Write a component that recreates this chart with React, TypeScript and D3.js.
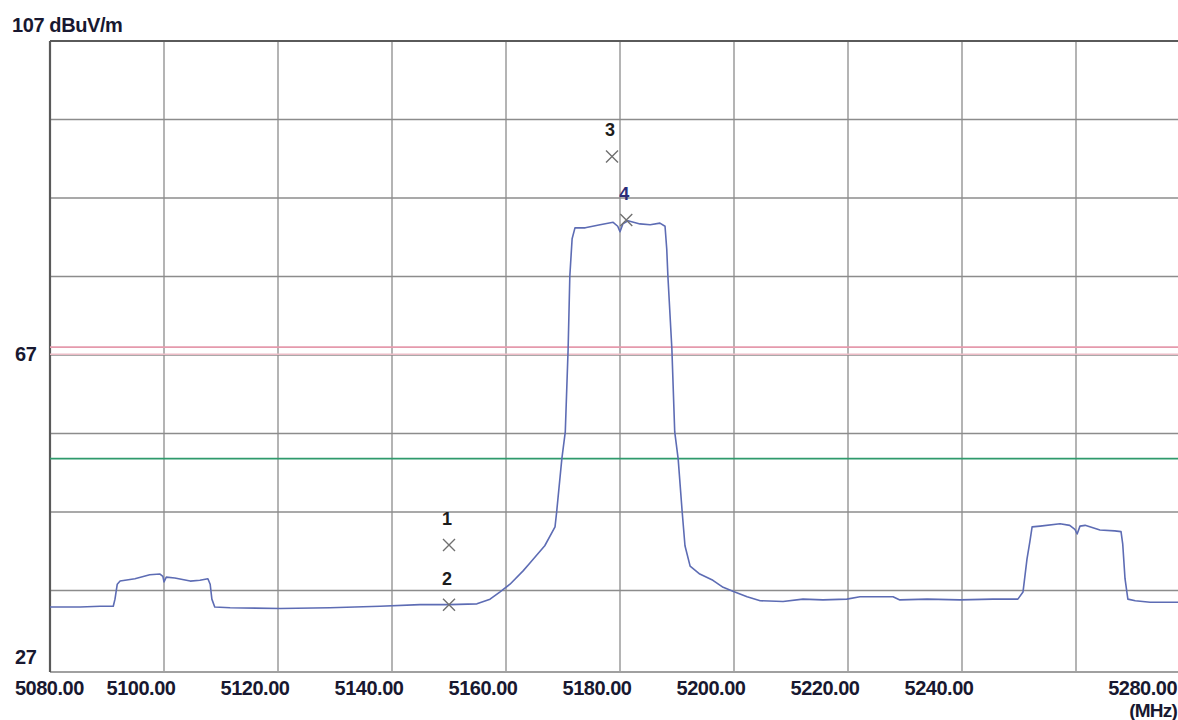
import React from 'react';
import * as d3 from 'd3';

// spectrum trace (MHz, dBuV/m)
const traceFreq = [
  5080.0, 5085.3, 5088.8, 5091.1, 5091.4, 5091.8, 5092.3, 5094.9, 5097.5, 5099.3,
  5099.8, 5100.0, 5100.4, 5101.9, 5104.6, 5106.3, 5107.7, 5108.1, 5108.4, 5108.9,
  5111.6, 5120.4, 5129.1, 5137.9, 5144.9, 5150.0, 5154.9, 5157.2, 5158.9, 5160.7,
  5163.0, 5164.2, 5166.8, 5168.6, 5168.9, 5169.8, 5170.4, 5170.9, 5171.2, 5171.6,
  5172.1, 5173.9, 5176.5, 5178.8, 5179.6, 5180.0, 5180.5, 5181.4, 5183.5, 5185.3,
  5187.0, 5187.9, 5188.2, 5188.4, 5189.1, 5189.6, 5190.2, 5190.9, 5191.4, 5192.3,
  5194.0, 5196.3, 5198.1, 5199.8, 5202.3, 5204.6, 5208.6, 5212.1, 5215.6, 5219.8,
  5222.1, 5227.9, 5229.1, 5233.9, 5239.6, 5245.4, 5249.8, 5250.7, 5251.4, 5251.9,
  5252.3, 5253.7, 5257.2, 5258.9, 5259.8, 5260.2, 5260.7, 5261.6, 5264.2, 5266.8,
  5267.9, 5268.2, 5268.6, 5269.1, 5270.4, 5273.0, 5277.9, 5280.0,
];
const traceLevel = [
  34.9, 34.9, 35.0, 35.0, 35.9, 37.8, 38.2, 38.5, 39.0, 39.1,
  38.8, 38.1, 38.7, 38.6, 38.2, 38.3, 38.5, 37.8, 35.9, 34.9,
  34.8, 34.7, 34.8, 35.0, 35.2, 35.2, 35.3, 35.9, 36.8, 37.8,
  39.5, 40.5, 42.7, 45.1, 47.1, 53.8, 57.2, 67.8, 77.1, 81.8,
  83.2, 83.2, 83.6, 83.9, 83.4, 82.7, 83.7, 84.1, 83.7, 83.6,
  83.8, 83.4, 80.5, 77.1, 67.8, 57.2, 53.8, 47.1, 42.7, 40.1,
  39.1, 38.3, 37.4, 36.9, 36.2, 35.7, 35.6, 35.9, 35.8, 35.9,
  36.2, 36.2, 35.8, 35.9, 35.8, 35.9, 35.9, 36.8, 41.0, 43.2,
  45.1, 45.2, 45.5, 45.3, 44.8, 44.2, 45.2, 45.3, 44.7, 44.6,
  44.5, 42.9, 38.5, 35.9, 35.7, 35.5, 35.5, 35.5,
];

// markers
const markerIds = ['1', '2', '3', '4'];
const markerFreq = [5150.0, 5150.0, 5178.6, 5181.1];
const markerLevel = [42.8, 35.2, 92.3, 84.2];

// limit lines
const peakLimit = [68.0, 67.1];
const avgLimit = 53.8;

// axis labels
const xTicks = d3.range(5080, 5281, 20);
const xTickLabels = ['5080.00', '5100.00', '5120.00', '5140.00', '5160.00', '5180.00', '5200.00', '5220.00', '5240.00', '', '5280.00'];
const yTicks = d3.range(37, 108, 10);
const yLabelValues = [107, 67, 27];
const yLabelTexts = ['107 dBuV/m', '67', '27'];

const W = 1178;
const H = 720;
const font = '"Liberation Sans", Arial, sans-serif';
const ink = '#181830';

export default function App() {
  const x = d3.scaleLinear().domain([5080, 5280]).range([50, 1190]);
  const y = d3.scaleLinear().domain([27, 107]).range([669, 41]);
  const bottom = y(27) + 3;

  const line = d3
    .line<number>()
    .x((_, i) => x(traceFreq[i]))
    .y((d) => y(d));

  // label placement tweaks (the original labels sit left of their gridlines)
  const xLabelPos = (v: number, i: number) => {
    if (i === 0) return { x: x(v) - 35, anchor: 'start' };
    if (v === 5280) return { x: W - 1, anchor: 'end' };
    return { x: x(v) - 23, anchor: 'middle' };
  };
  const yLabelDy = [-9, 6, -5];

  return (
    <svg
      width={W}
      height={H}
      style={{ position: 'absolute', left: 0, top: 0, background: '#fff' }}
      fontFamily={font}
    >
      {/* horizontal grid */}
      {yTicks.map((t) => (
        <line key={'h' + t} x1={x(5080)} x2={W} y1={y(t)} y2={y(t)} stroke="#8c8c8c" strokeWidth={1.3} />
      ))}
      {/* vertical grid */}
      {xTicks.map((t) => (
        <line key={'v' + t} x1={x(t)} x2={x(t)} y1={y(107)} y2={bottom} stroke="#8c8c8c" strokeWidth={1.3} />
      ))}
      {/* frame */}
      <line x1={x(5080)} x2={W} y1={y(107)} y2={y(107)} stroke="#5a5a5a" strokeWidth={1.8} />
      <line x1={x(5080)} x2={W} y1={bottom} y2={bottom} stroke="#a0a0a0" strokeWidth={1.8} />
      <line x1={x(5080)} x2={x(5080)} y1={y(107)} y2={bottom} stroke="#5a5a5a" strokeWidth={2.2} />

      {/* limit lines */}
      <line x1={x(5080)} x2={W} y1={y(peakLimit[0])} y2={y(peakLimit[0])} stroke="#e59aac" strokeWidth={1.8} />
      <line x1={x(5080)} x2={W} y1={y(peakLimit[1])} y2={y(peakLimit[1])} stroke="#ecbcc6" strokeWidth={1.6} />
      <line x1={x(5080)} x2={W} y1={y(avgLimit)} y2={y(avgLimit)} stroke="#2f9a6c" strokeWidth={1.8} />

      {/* trace */}
      <path d={line(traceLevel) || ''} fill="none" stroke="#5d6cb4" strokeWidth={1.6} strokeLinejoin="round" />

      {/* markers */}
      {markerIds.map((id, i) => {
        const mx = x(markerFreq[i]);
        const my = y(markerLevel[i]);
        const s = 6;
        return (
          <g key={'m' + id}>
            <path d={`M${mx - s},${my - s}L${mx + s},${my + s}M${mx - s},${my + s}L${mx + s},${my - s}`} stroke="#707070" strokeWidth={1.4} />
            <text x={mx - 2} y={my - 20} textAnchor="middle" fontSize={18} fontWeight="bold" fill={id === '4' ? '#2c2c78' : '#1c1c1c'}>
              {id}
            </text>
          </g>
        );
      })}

      {/* y labels */}
      {yLabelValues.map((v, i) => (
        <text key={'yl' + v} x={i === 0 ? 12 : 15} y={y(v) + yLabelDy[i]} fontSize={20} fontWeight="bold" fill={ink} letterSpacing={-0.4}>
          {yLabelTexts[i]}
        </text>
      ))}

      {/* x labels */}
      {xTicks.map((v, i) => {
        const p = xLabelPos(v, i);
        return (
          <text key={'xl' + v} x={p.x} y={695} textAnchor={p.anchor} fontSize={20} fontWeight="bold" fill={ink} letterSpacing={-0.5}>
            {xTickLabels[i]}
          </text>
        );
      })}
      <text x={W - 1} y={717} textAnchor="end" fontSize={19} fontWeight="bold" fill={ink} letterSpacing={-0.8}>
        (MHz)
      </text>
    </svg>
  );
}
